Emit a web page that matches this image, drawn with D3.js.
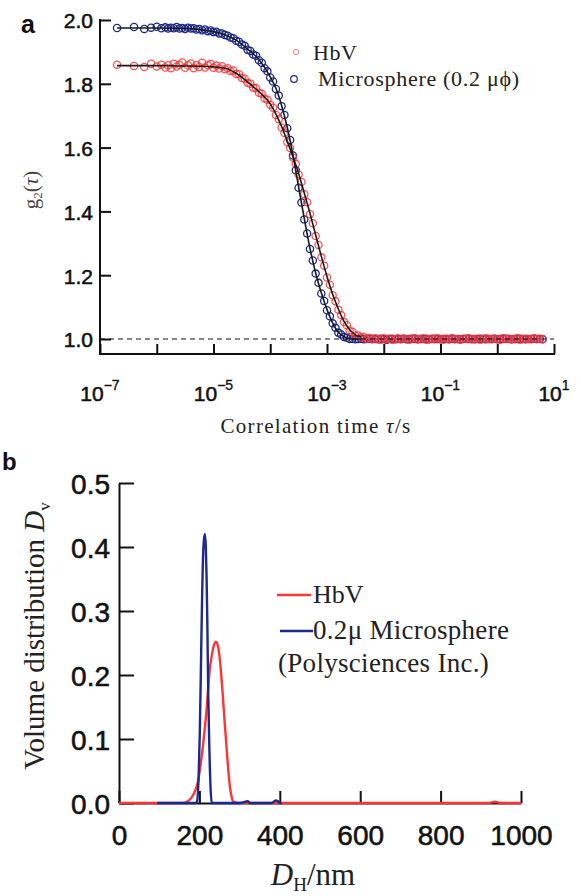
<!DOCTYPE html>
<html>
<head>
<meta charset="utf-8">
<script src="https://cdn.jsdelivr.net/npm/d3@7"></script>
<style>
  body { margin: 0; background: #fff; }
  svg { display: block; }
</style>
</head>
<body>
<svg id="chart" width="581" height="896"></svg>
<script>
// ---------- Panel a: intensity autocorrelation g2(tau) ----------
// correlator channels, log10 of the correlation time in seconds
const tauLog = [-6.70, -6.40, -6.22, -6.10, -6.00, -5.92,
  -5.85, -5.80, -5.75, -5.70, -5.65, -5.60, -5.55, -5.50, -5.45, -5.40,
  -5.35, -5.30, -5.25, -5.20, -5.15, -5.10, -5.05, -5.00, -4.95, -4.90,
  -4.85, -4.80, -4.75, -4.70, -4.65, -4.60, -4.55, -4.50, -4.45, -4.40,
  -4.35, -4.30, -4.25, -4.20, -4.15, -4.10, -4.05, -4.00, -3.95, -3.90,
  -3.85, -3.80, -3.75, -3.70, -3.65, -3.60, -3.55, -3.50, -3.45, -3.40,
  -3.35, -3.30, -3.25, -3.20, -3.15, -3.10, -3.05, -3.00, -2.95, -2.90,
  -2.85, -2.80, -2.75, -2.70, -2.65, -2.60, -2.55, -2.50, -2.45, -2.40,
  -2.35, -2.30, -2.25, -2.20,
  -2.15, -2.10, -2.05, -2.00, -1.95, -1.90, -1.85, -1.80, -1.75, -1.70,
  -1.65, -1.60, -1.55, -1.50, -1.45, -1.40, -1.35, -1.30, -1.25, -1.20,
  -1.15, -1.10, -1.05, -1.00, -0.95, -0.90, -0.85, -0.80, -0.75, -0.70,
  -0.65, -0.60, -0.55, -0.50, -0.45, -0.40, -0.35, -0.30, -0.25, -0.20,
  -0.15, -0.10, -0.05, 0.00, 0.05, 0.10, 0.15, 0.20, 0.25, 0.30,
  0.35, 0.40, 0.45, 0.50, 0.55, 0.60, 0.65, 0.70, 0.75, 0.80];

// measured g2 for the microsphere standard
const g2Micro = [1.975, 1.978, 1.972, 1.976, 1.979, 1.974,
  1.977, 1.973, 1.976, 1.974, 1.978, 1.973, 1.975, 1.972, 1.976, 1.973,
  1.974, 1.970, 1.972, 1.968, 1.970, 1.965, 1.967, 1.962, 1.963, 1.958,
  1.958, 1.953, 1.951, 1.945, 1.943, 1.935, 1.932, 1.923, 1.919, 1.907,
  1.903, 1.892, 1.888, 1.874, 1.866, 1.849, 1.839, 1.820, 1.807, 1.784,
  1.763, 1.730, 1.702, 1.661, 1.624, 1.575, 1.529, 1.474, 1.428, 1.375,
  1.331, 1.282, 1.246, 1.205, 1.176, 1.143, 1.119, 1.090, 1.071, 1.049,
  1.035, 1.020, 1.014, 1.006, 1.004, 1.000, 1.001, 0.999, 1.000, 1.001,
  0.999, 1.000, 1.001, 1.000,
  1.000, 0.999, 1.001, 1.000, 0.998, 1.000, 1.001, 0.999, 1.000, 1.000,
  1.001, 0.999, 1.000, 1.001, 1.000, 0.999, 1.000, 1.000, 1.001, 0.999,
  1.000, 1.001, 1.000, 0.999, 1.000, 1.000, 0.999, 1.001, 1.000, 1.000,
  0.999, 1.000, 1.001, 1.000, 1.000, 0.999, 1.000, 1.001, 1.000, 0.999,
  1.000, 1.000, 1.001, 0.999, 1.000, 1.000, 1.001, 1.000, 0.999, 1.000,
  1.000, 1.001, 1.000, 0.999, 1.000, 1.000, 1.001, 1.000, 1.000, 0.999];

// measured g2 for HbV
const g2HbV = [1.860, 1.856, 1.853, 1.863, 1.854, 1.860,
  1.851, 1.858, 1.849, 1.863, 1.854, 1.860, 1.867, 1.850, 1.858, 1.864,
  1.849, 1.859, 1.853, 1.866, 1.851, 1.858, 1.862, 1.850, 1.857, 1.848,
  1.855, 1.846, 1.849, 1.840, 1.842, 1.831, 1.830, 1.818, 1.816, 1.803,
  1.800, 1.788, 1.786, 1.772, 1.769, 1.754, 1.750, 1.734, 1.725, 1.702,
  1.689, 1.663, 1.646, 1.617, 1.599, 1.569, 1.549, 1.516, 1.492, 1.454,
  1.429, 1.391, 1.363, 1.323, 1.295, 1.256, 1.230, 1.193, 1.170, 1.137,
  1.118, 1.092, 1.075, 1.053, 1.043, 1.027, 1.022, 1.011, 1.011, 1.005,
  1.006, 1.001, 1.003, 0.999,
  1.002, 1.000, 0.998, 1.002, 1.000, 1.001, 0.998, 1.000, 1.002, 0.999,
  1.001, 1.000, 0.998, 1.001, 1.002, 0.999, 1.000, 1.002, 0.998, 1.000,
  1.001, 0.999, 1.002, 1.000, 0.998, 1.001, 1.000, 1.002, 0.999, 1.000,
  0.998, 1.001, 1.000, 1.002, 0.999, 1.000, 1.001, 0.998, 1.000, 1.002,
  1.000, 0.999, 1.001, 1.000, 0.998, 1.002, 1.000, 1.001, 0.999, 1.000,
  1.002, 0.998, 1.000, 1.001, 1.000, 0.999, 1.002, 1.000, 1.001, 1.000];

// fitted curves
const fitTauLog = [-6.70, -6.40, -6.00, -5.60, -5.20, -4.80, -4.60, -4.40, -4.20, -4.00,
  -3.90, -3.80, -3.70, -3.60, -3.50, -3.40, -3.30, -3.20, -3.10, -3.00,
  -2.90, -2.80, -2.70, -2.60, -2.50, -2.40];
const fitMicro = [1.975, 1.975, 1.975, 1.974, 1.969, 1.954, 1.937, 1.909, 1.876, 1.822,
  1.786, 1.732, 1.663, 1.577, 1.476, 1.377, 1.284, 1.207, 1.145, 1.092,
  1.050, 1.021, 1.007, 1.001, 1.000, 1.000];
const fitHbV = [1.857, 1.857, 1.857, 1.856, 1.855, 1.849, 1.833, 1.806, 1.775, 1.737,
  1.705, 1.666, 1.620, 1.572, 1.519, 1.457, 1.394, 1.326, 1.259, 1.196,
  1.140, 1.094, 1.055, 1.029, 1.013, 1.006];

const g2Ticks = [1.0, 1.2, 1.4, 1.6, 1.8, 2.0];
const tauDecades = [-7, -6, -5, -4, -3, -2, -1, 0, 1];
const tauLabelled = [-7, -5, -3, -1, 1];

// ---------- Panel b: volume size distribution ----------
const dHbV = [0, 160, 169, 180, 190, 197, 203, 209, 214, 219, 223, 227, 232, 237, 241,
  245, 249, 253, 258, 263, 268, 272, 276, 280, 284, 300, 400, 600, 800, 920, 935, 950, 1000];
const dvHbV = [0, 0, 0.002, 0.008, 0.020, 0.035, 0.060, 0.090, 0.120, 0.155, 0.190, 0.215, 0.235, 0.248, 0.252,
  0.248, 0.235, 0.210, 0.170, 0.125, 0.083, 0.050, 0.025, 0.010, 0.002, 0, 0, 0, 0, 0, 0.002, 0, 0];

const dMicro = [95, 150, 190, 194, 198, 201, 204, 207, 210, 212, 214, 216, 218, 220, 222,
  225, 228, 231, 240, 300, 315, 320, 325, 380, 390, 395, 400, 405];
const dvMicro = [0, 0, 0, 0.002, 0.040, 0.110, 0.220, 0.330, 0.400, 0.415, 0.420, 0.400, 0.350, 0.270, 0.170,
  0.080, 0.020, 0, 0, 0, 0.002, 0.003, 0, 0, 0.004, 0.003, 0, 0];

const dvTicks = [0, 0.1, 0.2, 0.3, 0.4, 0.5];
const dTicks = [0, 200, 400, 600, 800, 1000];

// ---------- drawing ----------
const RED = "#ff3434";
const BLUE = "#1c2a8f";
const AXIS = "#111";
const SANS = "'Liberation Sans', Arial, sans-serif";
const SERIF = "'Liberation Serif', 'Times New Roman', serif";

const svg = d3.select("#chart");

// heavier sans-serif numerals for the tick labels
function heavy(sel, size) {
  sel.attr("font-family", SANS).attr("font-size", size).attr("fill", "#111")
    .attr("stroke", "#111").attr("stroke-width", 0.55);
}

// ===== panel a =====
const xA = d3.scaleLog().domain([1e-7, 10]).range([100, 554]);
const yA = d3.scaleLinear().domain([1.0, 2.0]).range([339, 20]);
const axisYA = 354;

const gA = svg.append("g");

// left axis
const yAxisA = gA.append("g").attr("transform", "translate(100,0)")
  .call(d3.axisLeft(yA).tickValues(g2Ticks).tickSizeInner(-11).tickSizeOuter(0)
    .tickPadding(7).tickFormat(d3.format(".1f")));
yAxisA.select(".domain").remove();
yAxisA.selectAll(".tick line").attr("stroke", AXIS).attr("stroke-width", 2);
yAxisA.selectAll(".tick text").call(heavy, 21).attr("dy", "0.38em");
gA.append("line").attr("x1", 100).attr("x2", 100).attr("y1", yA(2.0) - 1).attr("y2", axisYA)
  .attr("stroke", AXIS).attr("stroke-width", 2);

// bottom axis
const xAxisA = gA.append("g").attr("transform", `translate(0,${axisYA})`)
  .call(d3.axisBottom(xA).tickValues(tauDecades.map(e => Math.pow(10, e)))
    .tickSizeInner(-10).tickSizeOuter(0).tickFormat(() => ""));
xAxisA.select(".domain").remove();
xAxisA.selectAll(".tick line").attr("stroke", AXIS).attr("stroke-width", 2);
xAxisA.selectAll(".tick text").remove();
gA.append("line").attr("x1", 99).attr("x2", 555).attr("y1", axisYA).attr("y2", axisYA)
  .attr("stroke", AXIS).attr("stroke-width", 2);

tauLabelled.forEach(e => {
  const t = gA.append("text").attr("x", xA(Math.pow(10, e))).attr("y", 401)
    .attr("text-anchor", "middle").call(heavy, 21);
  t.append("tspan").text("10");
  t.append("tspan").attr("dy", -11).attr("font-size", 14).attr("stroke-width", 0.35)
    .text(e < 0 ? "\u2212" + Math.abs(e) : String(e));
});

// data points
const ptsMicro = tauLog.map((e, i) => [Math.pow(10, e), g2Micro[i]]);
const ptsHbV = tauLog.map((e, i) => [Math.pow(10, e), g2HbV[i]]);

gA.append("g").selectAll("circle").data(ptsMicro).join("circle")
  .attr("cx", d => xA(d[0])).attr("cy", d => yA(d[1])).attr("r", 3.6)
  .attr("fill", "none").attr("stroke", BLUE).attr("stroke-width", 1.3);
gA.append("g").selectAll("circle").data(ptsHbV).join("circle")
  .attr("cx", d => xA(d[0])).attr("cy", d => yA(d[1])).attr("r", 3.6)
  .attr("fill", "none").attr("stroke", RED).attr("stroke-opacity", 0.85).attr("stroke-width", 1.3);

// fit curves
const fitLine = d3.line().x(d => xA(d[0])).y(d => yA(d[1])).curve(d3.curveMonotoneX);
[fitMicro, fitHbV].forEach(vals => {
  gA.append("path").datum(fitTauLog.map((e, i) => [Math.pow(10, e), vals[i]]))
    .attr("d", fitLine).attr("fill", "none").attr("stroke", "#1a1a1a").attr("stroke-width", 1.6);
});

// dashed baseline g2 = 1, over the points
gA.append("line").attr("x1", 100).attr("x2", 554).attr("y1", yA(1)).attr("y2", yA(1))
  .attr("stroke", "#111").attr("stroke-width", 1.2).attr("stroke-dasharray", "5,4");

// panel letter and axis titles
gA.append("text").attr("x", 21).attr("y", 33).attr("font-family", SANS).attr("font-weight", "bold")
  .attr("font-size", 25).attr("fill", "#111").text("a");

const yTitleA = gA.append("text").attr("transform", "translate(38,190) rotate(-90)")
  .attr("text-anchor", "middle").attr("font-family", SERIF).attr("font-size", 21).attr("fill", "#444");
yTitleA.append("tspan").text("g");
yTitleA.append("tspan").attr("font-size", 13).attr("dy", 4).text("2");
yTitleA.append("tspan").attr("dy", -4).text("(");
yTitleA.append("tspan").attr("font-style", "italic").text("\u03c4");
yTitleA.append("tspan").text(")");

const xTitleA = gA.append("text").attr("x", 316).attr("y", 433).attr("text-anchor", "middle")
  .attr("font-family", SERIF).attr("font-size", 21).attr("letter-spacing", 1.3).attr("fill", "#222");
xTitleA.append("tspan").text("Correlation time ");
xTitleA.append("tspan").attr("font-style", "italic").text("\u03c4");
xTitleA.append("tspan").text("/s");

// legend a
gA.append("circle").attr("cx", 296).attr("cy", 52).attr("r", 2.6).attr("fill", "none")
  .attr("stroke", RED).attr("stroke-opacity", 0.6).attr("stroke-width", 1);
gA.append("text").attr("x", 313).attr("y", 60).attr("font-family", SERIF).attr("font-size", 22)
  .attr("letter-spacing", 0.5).attr("fill", "#222").text("HbV");
gA.append("circle").attr("cx", 294).attr("cy", 79).attr("r", 3.3).attr("fill", "none")
  .attr("stroke", BLUE).attr("stroke-width", 1.2);
gA.append("text").attr("x", 318).attr("y", 86).attr("font-family", SERIF).attr("font-size", 22)
  .attr("letter-spacing", 0.7).attr("fill", "#222").text("Microsphere (0.2 \u03bc\u03d5)");

// ===== panel b =====
const xB = d3.scaleLinear().domain([0, 1000]).range([119, 521]);
const yB = d3.scaleLinear().domain([0, 0.5]).range([803, 483]);
const gB = svg.append("g");

const yAxisB = gB.append("g").attr("transform", "translate(119,0)")
  .call(d3.axisLeft(yB).tickValues(dvTicks).tickSizeInner(-15).tickSizeOuter(0)
    .tickPadding(9).tickFormat(d3.format(".1f")));
yAxisB.select(".domain").attr("stroke", AXIS).attr("stroke-width", 2);
yAxisB.selectAll(".tick line").attr("stroke", AXIS).attr("stroke-width", 2);
yAxisB.selectAll(".tick text").call(heavy, 28).attr("dy", "0.36em");

const xAxisB = gB.append("g").attr("transform", "translate(0,803)")
  .call(d3.axisBottom(xB).tickValues(dTicks).tickSizeInner(-12).tickSizeOuter(0)
    .tickPadding(22).tickFormat(d3.format("d")));
xAxisB.select(".domain").attr("stroke", AXIS).attr("stroke-width", 2);
xAxisB.selectAll(".tick line").attr("stroke", AXIS).attr("stroke-width", 2);
xAxisB.selectAll(".tick text").call(heavy, 28).attr("dy", "0.71em");

const distLine = d3.line().x(d => xB(d[0])).y(d => yB(d[1])).curve(d3.curveMonotoneX);
gB.append("path").datum(dHbV.map((d, i) => [d, dvHbV[i]])).attr("d", distLine)
  .attr("fill", "none").attr("stroke", RED).attr("stroke-width", 2.4);
gB.append("path").datum(dMicro.map((d, i) => [d, dvMicro[i]])).attr("d", distLine)
  .attr("fill", "none").attr("stroke", BLUE).attr("stroke-width", 2.4);

gB.append("text").attr("x", 2).attr("y", 470).attr("font-family", SANS).attr("font-weight", "bold")
  .attr("font-size", 24).attr("fill", "#111").text("b");

const yTitleB = gB.append("text").attr("transform", "translate(44,636) rotate(-90)")
  .attr("text-anchor", "middle").attr("font-family", SERIF).attr("font-size", 29).attr("fill", "#222");
yTitleB.append("tspan").text("Volume distribution ");
yTitleB.append("tspan").attr("font-style", "italic").text("D");
yTitleB.append("tspan").attr("font-size", 17).attr("dy", 6).text("v");

const xTitleB = gB.append("text").attr("x", 313).attr("y", 885).attr("text-anchor", "middle")
  .attr("font-family", SERIF).attr("font-size", 31).attr("fill", "#222");
xTitleB.append("tspan").attr("font-style", "italic").text("D");
xTitleB.append("tspan").attr("font-size", 19).attr("dy", 6).text("H");
xTitleB.append("tspan").attr("dy", -6).text("/nm");

// legend b
gB.append("line").attr("x1", 277).attr("x2", 311).attr("y1", 595).attr("y2", 595)
  .attr("stroke", RED).attr("stroke-width", 2.4);
gB.append("text").attr("x", 313).attr("y", 603).attr("font-family", SERIF).attr("font-size", 26)
  .attr("fill", "#222").text("HbV");
gB.append("line").attr("x1", 280).attr("x2", 313).attr("y1", 631).attr("y2", 631)
  .attr("stroke", BLUE).attr("stroke-width", 2.4);
gB.append("text").attr("x", 313).attr("y", 639).attr("font-family", SERIF).attr("font-size", 27)
  .attr("letter-spacing", 0.3).attr("fill", "#222").text("0.2\u03bc Microsphere");
gB.append("text").attr("x", 278).attr("y", 672).attr("font-family", SERIF).attr("font-size", 27)
  .attr("letter-spacing", 0.3).attr("fill", "#222").text("(Polysciences Inc.)");
</script>
</body>
</html>
